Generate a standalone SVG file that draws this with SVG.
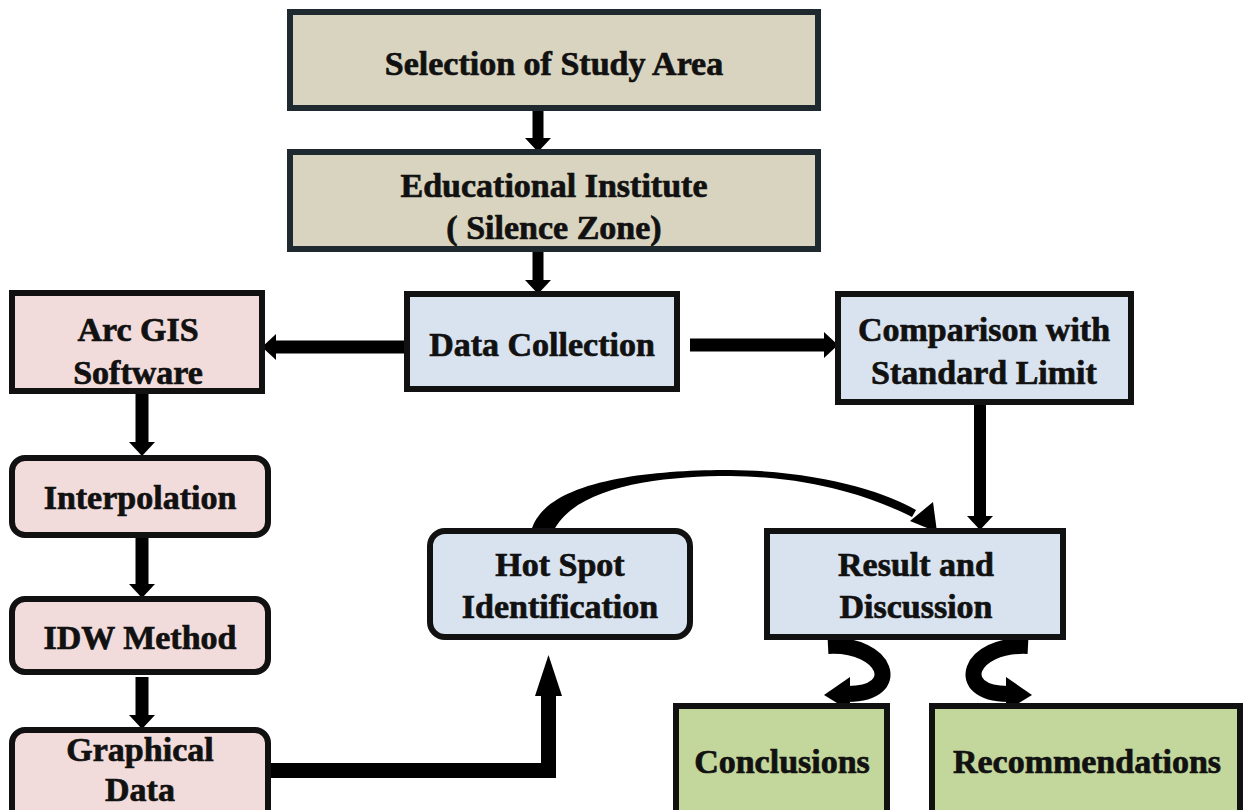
<svg xmlns="http://www.w3.org/2000/svg" width="1247" height="810" viewBox="0 0 1247 810">
<style>
.t{font-family:"Liberation Serif","Times New Roman",serif;font-weight:bold;font-size:34px;fill:#111;stroke:#111;stroke-width:0.7;text-anchor:middle}
.tan{fill:#d9d4bf;stroke:#1e2a30;stroke-width:6}
.pink{fill:#f2dcdb;stroke:#111;stroke-width:6}
.blue{fill:#d9e3ef;stroke:#111;stroke-width:6}
.green{fill:#c3d69b;stroke:#111;stroke-width:6}
.sh{fill:none;stroke:#000}
</style>
<defs>
<marker id="ah" markerUnits="userSpaceOnUse" markerWidth="30" markerHeight="30" refX="0" refY="13" orient="auto">
<path d="M0,0 L14,13 L0,26 Z" fill="#000"/>
</marker>
</defs>
<rect width="1247" height="810" fill="#fff"/>

<g id="connectors">
<path class="sh" stroke-width="11" d="M538,109 V138" marker-end="url(#ah)"/>
<path class="sh" stroke-width="11" d="M538,250 V280" marker-end="url(#ah)"/>
<path class="sh" stroke-width="13" d="M406,347 H276" marker-end="url(#ah)"/>
<path class="sh" stroke-width="13" d="M690,345 H824" marker-end="url(#ah)"/>
<path class="sh" stroke-width="13" d="M142,392 V442" marker-end="url(#ah)"/>
<path class="sh" stroke-width="13" d="M142,538 V584" marker-end="url(#ah)"/>
<path class="sh" stroke-width="13" d="M142,677 V715" marker-end="url(#ah)"/>
<path class="sh" stroke-width="12" d="M980,403 V516" marker-end="url(#ah)"/>
<path class="sh" stroke-width="15" d="M268,770.5 H548.5 V690"/>
<path d="M535,696 L548.5,655 L562,696 Z" fill="#000"/>
<path d="M531,532 C543,480 650,470 730,470 C820,471 885,492 916,510 L912,517 C880,501 820,477 730,476 C660,476 575,486 553,532 Z" fill="#000"/>
<path d="M910,521 L933,502 L937,532 Z" fill="#000"/>
<path class="sh" stroke-width="16" d="M828,646 C888,643 904,694 848,694"/>
<path d="M824,695 L850,677 L850,711 Z" fill="#000"/>
<path class="sh" stroke-width="16" d="M1028,646 C968,643 952,694 1008,694"/>
<path d="M1032,695 L1006,677 L1006,711 Z" fill="#000"/>
</g>

<g id="n-selection">
<rect class="tan" x="290" y="12" width="528" height="96"/>
<text class="t" x="554" y="75">Selection of Study Area</text>
</g>
<g id="n-educational">
<rect class="tan" x="290" y="152" width="528" height="97"/>
<text class="t" x="554" y="197">Educational Institute</text>
<text class="t" x="554" y="239">( Silence Zone)</text>
</g>
<g id="n-data">
<rect class="blue" x="407" y="294" width="270" height="95"/>
<text class="t" x="542" y="356">Data Collection</text>
</g>
<g id="n-arcgis">
<rect class="pink" x="12" y="293" width="250" height="98"/>
<text class="t" x="138" y="341">Arc GIS</text>
<text class="t" x="138" y="384">Software</text>
</g>
<g id="n-comparison">
<rect class="blue" x="838" y="294" width="293" height="108"/>
<text class="t" x="984" y="341">Comparison with</text>
<text class="t" x="984" y="384">Standard Limit</text>
</g>
<g id="n-interpolation">
<rect class="pink" x="12" y="458" width="256" height="77" rx="13"/>
<text class="t" x="140" y="509">Interpolation</text>
</g>
<g id="n-idw">
<rect class="pink" x="12" y="599" width="256" height="73" rx="13"/>
<text class="t" x="140" y="649">IDW Method</text>
</g>
<g id="n-graphical">
<rect class="pink" x="12" y="730" width="256" height="95" rx="13"/>
<text class="t" x="140" y="761">Graphical</text>
<text class="t" x="140" y="801">Data</text>
</g>
<g id="n-hotspot">
<rect class="blue" x="430" y="531" width="260" height="106" rx="15"/>
<text class="t" x="560" y="576">Hot Spot</text>
<text class="t" x="560" y="618">Identification</text>
</g>
<g id="n-result">
<rect class="blue" x="767" y="531" width="296" height="106"/>
<text class="t" x="916" y="576">Result and</text>
<text class="t" x="916" y="618">Discussion</text>
</g>
<g id="n-conclusions">
<rect class="green" x="676" y="706" width="211" height="115"/>
<text class="t" x="782" y="773">Conclusions</text>
</g>
<g id="n-recommendations">
<rect class="green" x="932" y="706" width="308" height="115"/>
<text class="t" x="1087" y="773">Recommendations</text>
</g>
</svg>
